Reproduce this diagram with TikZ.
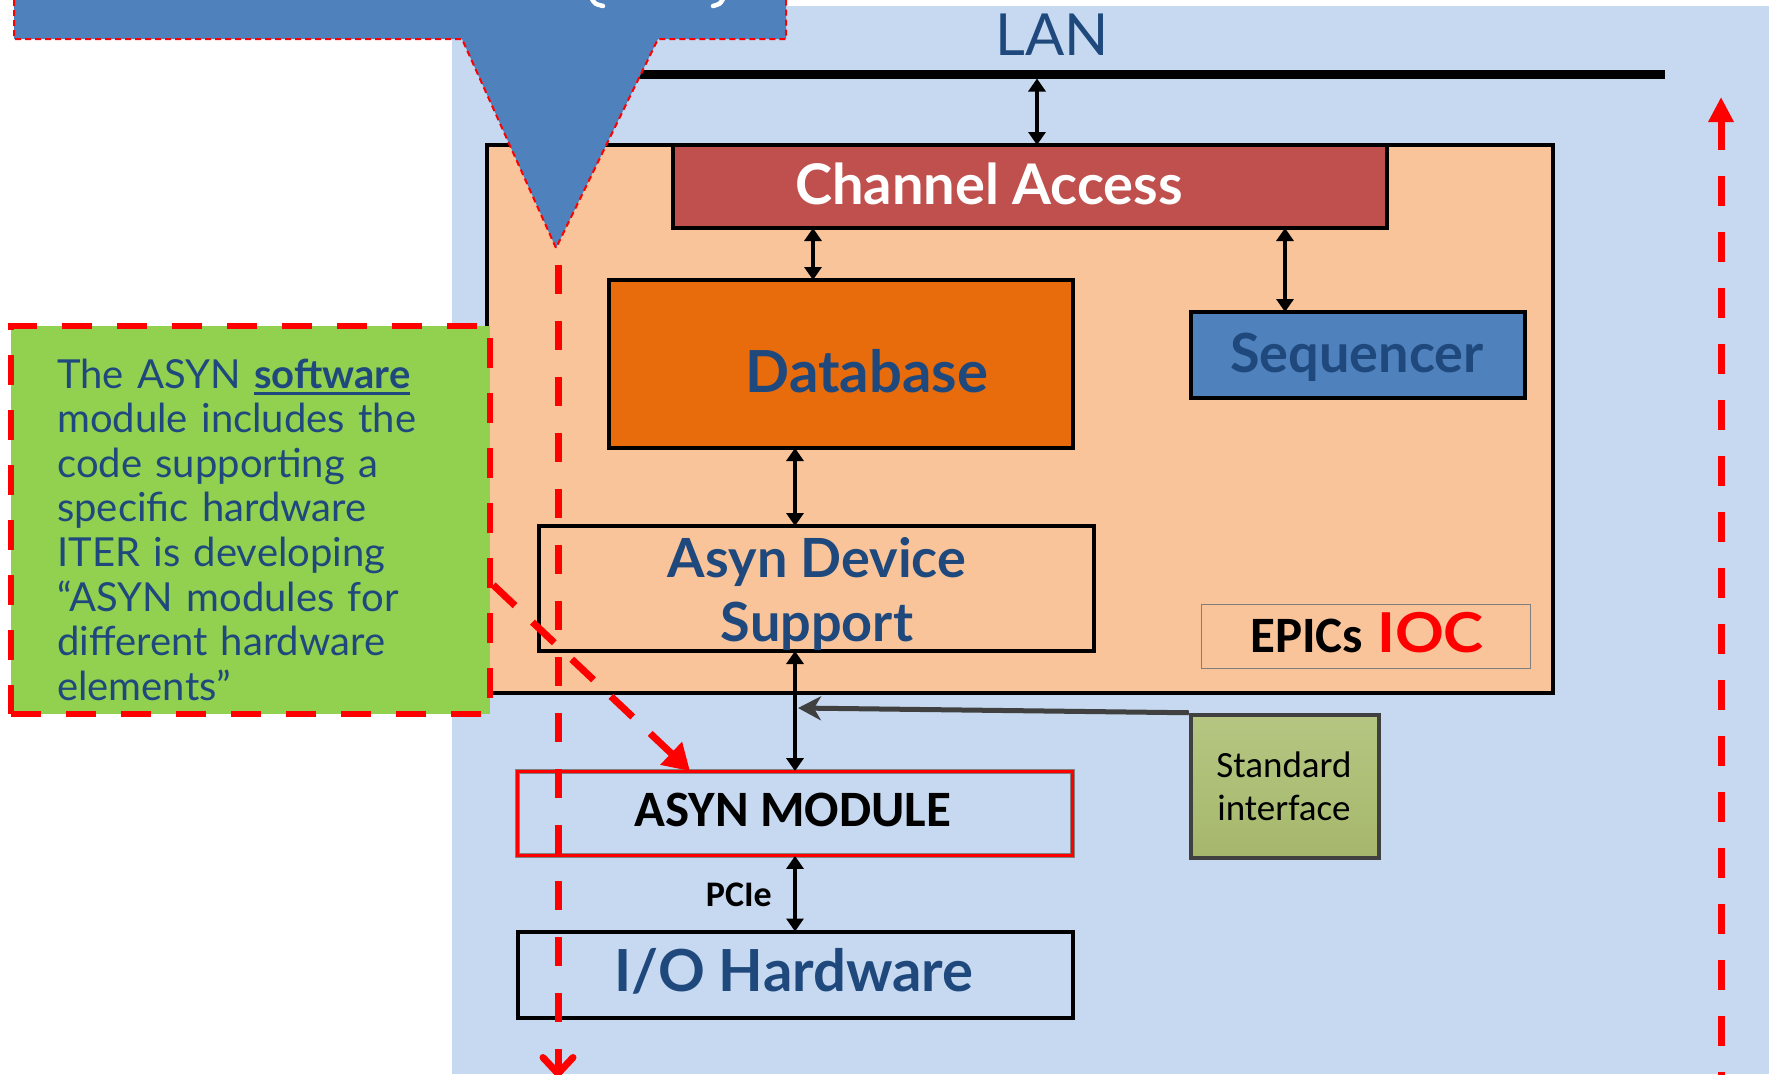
\documentclass[tikz,border=0pt]{standalone}
\usepackage{fontspec}
\setmainfont{Lato}
\newfontfamily\calibrifont{Carlito}
\usetikzlibrary{arrows.meta,calc}

\definecolor{bgblue}{RGB}{198,217,240}
\definecolor{calloutblue}{RGB}{79,129,189}
\definecolor{iocpeach}{RGB}{249,196,154}
\definecolor{cared}{RGB}{192,80,77}
\definecolor{dborange}{RGB}{232,108,12}
\definecolor{navy}{RGB}{31,73,125}
\definecolor{notegreen}{RGB}{146,208,80}
\definecolor{stdtop}{RGB}{181,198,130}
\definecolor{stdbot}{RGB}{166,183,108}
\definecolor{stdedge}{RGB}{64,64,64}
\definecolor{labelgray}{RGB}{127,127,127}
\definecolor{hot}{RGB}{255,0,0}

% underline drawn as a rule a little below the baseline
\newcommand\ulword[1]{\setbox0=\hbox{#1}\rlap{\rule[-7pt]{\wd0}{3pt}}\box0}

\begin{document}
\begin{tikzpicture}[x=1pt,y=-1pt,
  box/.style={draw=black, line width=4pt, inner sep=0pt, outer sep=0pt, rectangle},
  dbl/.style={line width=3.5pt, {Triangle[length=13pt,width=17pt]}-{Triangle[length=13pt,width=17pt]}},
  headline/.style={inner sep=0pt, anchor=base, text=navy, font=\bfseries\fontsize{#1}{#1}\selectfont},
  calibritext/.style={inner sep=0pt, anchor=base, font=\calibrifont\fontsize{#1}{#1}\selectfont},
  reddash/.style={draw=hot, line width=7pt, dash pattern=on 30pt off 26pt},
]
\useasboundingbox (0,0) rectangle (1769,1074);

% network area
\fill[bgblue] (452,6) rectangle (1769,1074);

% LAN bus
\coordinate (lanL) at (600,74);
\coordinate (lanR) at (1665,74);
\draw[line width=9pt] (lanL) -- (lanR);
\node[inner sep=0pt, anchor=base, text=navy, font=\fontsize{58}{58}\selectfont] (lan) at (1052,55) {LAN};

% IOC frame
\node[box, fill=iocpeach, minimum width=1066pt, minimum height=548pt] (ioc) at (1020,419) {};

% callout banner with pointer
\fill[calloutblue] (14,-60) -- (786,-60) -- (786,39) -- (658,39) -- (556,248) -- (462,39) -- (14,39) -- cycle;
\draw[hot, line width=2pt, dash pattern=on 6pt off 4pt]
  (14,-60) -- (14,39) -- (462,39) -- (556,248) -- (658,39) -- (786,39) -- (786,-60);
\draw[white, line width=4.5pt, line cap=round] (592,-1) .. controls (595,4) .. (603,6);
\draw[white, line width=4.5pt, line cap=round] (713,6) .. controls (720,4) .. (723,-1);

% IOC components
\node[box, fill=cared, minimum width=714pt, minimum height=83pt] (ca) at (1030,186.5) {};
\node[headline=56, text=white] (catext) at (989,204) {Channel Access};

\node[box, fill=dborange, minimum width=464pt, minimum height=168pt] (db) at (841,364) {};
\node[headline=58] (dbtext) at (867,392) {Database};

\node[box, fill=calloutblue, minimum width=334pt, minimum height=86pt] (seq) at (1358,355) {};
\node[headline=54] (seqtext) at (1357,372) {Sequencer};

\node[box, minimum width=555pt, minimum height=125pt] (ads) at (816.5,588.5) {};
\node[headline=54] (adstext1) at (817,577) {Asyn Device};
\node[headline=54] (adstext2) at (817,641) {Support};

\node[draw=labelgray, line width=1.5pt, inner sep=0pt, minimum width=329pt, minimum height=64pt] (ioclabelbox) at (1366,636.5) {};
\node[inner sep=0pt, anchor=base] (ioclabel) at (1367,652)
  {{\calibrifont\bfseries\fontsize{51}{51}\selectfont EPICs}\hspace{14pt}{\bfseries\color{hot}\fontsize{55}{55}\selectfont\scalebox{1.1}[1]{IOC}}};

% hardware side
\node[draw=stdedge, line width=4.5pt, top color=stdtop, bottom color=stdbot, inner sep=0pt,
      minimum width=188pt, minimum height=143pt] (std) at (1285,786.5) {};
\node[calibritext=37] (stdtext1) at (1284,777) {Standard};
\node[calibritext=37] (stdtext2) at (1284,820) {interface};

\node[draw=gray, double=hot, double distance=2.5pt, line width=0.8pt, fill=bgblue, inner sep=0pt,
      minimum width=555pt, minimum height=84pt] (am) at (795,813.5) {};
\node[inner sep=0pt, anchor=base, font=\calibrifont\bfseries\fontsize{51}{51}\selectfont] (amtext) at (793,826) {ASYN MODULE};

\node[box, fill=bgblue, minimum width=555pt, minimum height=86pt] (io) at (795,974.5) {};
\node[headline=58] (iotext) at (794,991) {I/O Hardware};

\node[inner sep=0pt, anchor=base east, font=\calibrifont\bfseries\fontsize{36}{36}\selectfont] (pcie) at (772,906) {PCIe};

% connectors
\coordinate (lanTap) at (1037,78.5);
\draw[dbl] (lanTap) -- (lanTap |- ca.north);
\draw[dbl] ([xshift=-28pt]db.north) -- ([xshift=-28pt]db.north |- ca.south);
\draw[dbl] ([xshift=-73pt]seq.north) -- ([xshift=-73pt]seq.north |- ca.south);
\draw[dbl] ([xshift=-21.5pt]ads.north) -- ([xshift=-21.5pt]ads.north |- db.south);
\draw[dbl] (am.north) -- (am.north |- ads.south);
\draw[dbl] (io.north) -- (am.south);

\coordinate (tap) at (798,708);
\draw[stdedge, line width=5pt, -{Stealth[length=23pt,width=24pt,inset=7pt]}] (std.north west) -- (tap);

% note box
\node[fill=notegreen, draw=hot, line width=6.5pt, dash pattern=on 30pt off 25pt, inner sep=0pt,
      minimum width=479pt, minimum height=388pt] (note) at (250.5,520) {};
\node[inner sep=0pt, anchor=base west, text width=430pt, align=left, text=navy,
      font=\fontsize{40}{44.6}\selectfont] (notetext) at (57,388)
  {The ASYN \ulword{\textbf{software}}\\
   module includes the\\
   code supporting a\\
   specific hardware\\
   ITER is developing\\
   “ASYN modules for\\
   different hardware\\
   elements”};

% red flow markers
\coordinate (dropTop) at (558,265);
\coordinate (dropEnd) at (558,1077);
\draw[reddash, dash pattern=on 29pt off 27pt, -{Straight Barb[length=16pt,width=30pt,round]}] (dropTop) -- (dropEnd);

\coordinate (riseTop) at (1721,97);
\coordinate (riseBot) at (1721,1080);
\draw[reddash, {Triangle[length=25pt,width=24pt]}-] (riseTop) -- (riseBot);

\draw[reddash, dash pattern=on 30pt off 24pt, -{Triangle[length=26pt,width=30pt]}]
  ([yshift=-65pt]note.east) -- ([xshift=-105pt]am.north);

\end{tikzpicture}
\end{document}
